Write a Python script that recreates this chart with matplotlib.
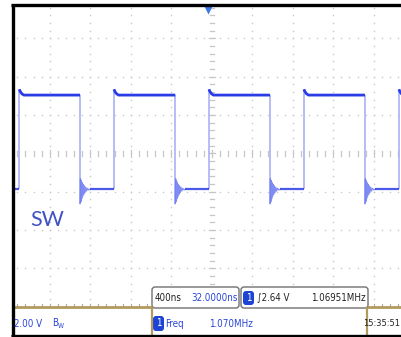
import matplotlib
matplotlib.use('Agg')
import matplotlib.pyplot as plt
import numpy as np
from matplotlib.patches import FancyBboxPatch
from matplotlib.lines import Line2D
from matplotlib.transforms import Affine2D
from matplotlib import font_manager
from matplotlib.font_manager import FontProperties

# ---------------- data ----------------
rise_ns = [-1900, -965, -27, 911, 1849]          # rising-edge times
fall_ns = [-1300, -360, 576, 1514]               # falling-edge times
v_high = 4.92                                    # V
v_low = 0.0                                      # V
overshoot_dt = [0, 10, 25, 45]                   # ns after rising edge
overshoot_dv = [0.30, 0.18, 0.07, 0.0]           # V
ring_dt = [0, 4, 8, 12, 16, 20, 25, 30, 36, 42, 49, 56, 64, 74, 86, 100]
ring_dv = [-0.75, 0.55, -0.65, 0.45, -0.5, 0.35, -0.38, 0.26, -0.27, 0.18,
           -0.17, 0.11, -0.09, 0.05, -0.03, 0.0]
ns_per_div = 400
v_per_div = 2.0
center_v = 1.88
trig_ns = -32
label_trace = "SW"
lbl_timebase = "400ns"
lbl_hpos = "32.0000ns"
lbl_trig = "\u222B2.64 V"
lbl_freq_trig = "1.06951MHz"
lbl_scale = "2.00 V"
lbl_meas = "Freq"
lbl_meas_val = "1.070MHz"
lbl_time = "15:35:51"

W, H = 401, 337
fig = plt.figure(figsize=(W / 100, H / 100), dpi=100)
fig.patch.set_facecolor('white')

# axes region in pixels: x 13..401, y 6..306.7
ax_l, ax_r, ax_t, ax_b = 13, 401, 6, 306.7
ax = fig.add_axes([ax_l / W, 1 - ax_b / H, (ax_r - ax_l) / W, (ax_b - ax_t) / H])
px_per_div_x = 40.5
px_per_div_y = 38.3
cx, cy = 211.7, 153.3
xmin = (ax_l - cx) / px_per_div_x * ns_per_div
xmax = (ax_r - cx) / px_per_div_x * ns_per_div
ymax = center_v + (cy - ax_t) / px_per_div_y * v_per_div
ymin = center_v - (ax_b - cy) / px_per_div_y * v_per_div
ax.set_xlim(xmin, xmax)
ax.set_ylim(ymin, ymax)
ax.axis('off')

# ---------------- graticule ----------------
dot_c = '#c8c8c8'
step_t = ns_per_div / 5
step_v = v_per_div / 5
tt = np.arange(-5 * ns_per_div, 5 * ns_per_div + 1, step_t)
vv = center_v + np.arange(-4 * v_per_div, 4 * v_per_div + 0.01, step_v)
for k in [-3, -2, -1, 1, 2, 3]:
    v = center_v + k * v_per_div
    ax.plot(tt, np.full_like(tt, v), 's', ms=1.0, mec='none', mfc=dot_c, zorder=1)
for k in [-4, -3, -2, -1, 1, 2, 3, 4]:
    t = k * ns_per_div
    ax.plot(np.full_like(vv, t), vv, 's', ms=1.0, mec='none', mfc=dot_c, zorder=1)
# center cross with fine ticks
tick_c = '#c6c6c6'
hv = 2.5 / px_per_div_y * v_per_div
ht = 2.2 / px_per_div_x * ns_per_div
for t in tt:
    m = 1.4 if abs(t % ns_per_div) < 1e-6 else 1.0
    ax.plot([t, t], [center_v - hv * m, center_v + hv * m], color=tick_c, lw=0.9, zorder=1)
for v in vv:
    q = (v - center_v) / v_per_div
    m = 1.4 if abs(q - round(q)) < 1e-6 else 1.0
    ax.plot([-ht * m, ht * m], [v, v], color=tick_c, lw=0.9, zorder=1)
# bottom ticks
bt = 3 / px_per_div_y * v_per_div
for t in tt:
    ax.plot([t, t], [ymin, ymin + bt], color='#a8a8a8', lw=0.8, zorder=1)

# ---------------- waveform ----------------
light = '#aab0f6'
dark = '#2a3ce4'
ringc = '#6a78f2'

# vertical edges (light)
ax.vlines(rise_ns, v_low, v_high + overshoot_dv[0], color=light, lw=1.2, zorder=2)
ax.vlines(fall_ns, v_low + ring_dv[0], v_high, color=light, lw=1.2, zorder=2)

# ringing after each falling edge
for f in fall_ns:
    ax.plot([f + d for d in ring_dt], [v_low + d for d in ring_dv],
            color=ringc, lw=0.9, alpha=0.85, zorder=2.5)

# dark plateaus
for i, r in enumerate(rise_ns):
    end = fall_ns[i] if i < len(fall_ns) else xmax
    ts = [r + d for d in overshoot_dt] + [end]
    vs = [v_high + d for d in overshoot_dv] + [v_high]
    ax.plot(ts, vs, color=dark, lw=2.0, zorder=3, solid_capstyle='butt')
lows_start = [xmin] + [f + ring_dt[-1] for f in fall_ns]
lows_end = rise_ns[:len(lows_start)]
for a, b in zip(lows_start, lows_end):
    ax.plot([a, b], [v_low, v_low], color=dark, lw=1.6, zorder=3, alpha=0.85,
            solid_capstyle='butt')

# trigger marker at top
ax.plot([trig_ns], [ymax - 0.2], marker='v', ms=6.0, color='#3a78e6', mec='none',
        clip_on=False, zorder=4)

# trace label
ax.text(-1940 + 150, center_v - 1.75 * v_per_div, label_trace, color='#4052c4',
        fontsize=15.5, family=['Lato', 'DejaVu Sans'], ha='left', va='center', zorder=4)

# ---------------- status bar (pixel coordinates) ----------------
tr = Affine2D().scale(1 / W, -1 / H).translate(0, 1) + fig.transFigure

# look for a condensed face; otherwise Liberation Sans
cond_file = None
for fe in font_manager.fontManager.ttflist:
    nm = fe.name
    if ('Narrow' in nm or 'Condensed' in nm or str(fe.stretch) in ('condensed', 'semi-condensed', 'extra-condensed')) \
            and fe.style == 'normal' and fe.weight in (400, 'normal', 'regular'):
        cond_file = fe.fname
        break
if cond_file:
    base_fp = FontProperties(fname=cond_file)
    csz = 7.0
else:
    base_fp = FontProperties(family=['Liberation Sans', 'DejaVu Sans'])
    csz = 6.0
blue_t = '#2a45d8'
gold = '#b29a5c'

def line(xs, ys, c, lw):
    fig.add_artist(Line2D(xs, ys, color=c, lw=lw, transform=tr, solid_capstyle='butt'))

def box(x0, y0, x1, y1, ec, fc='white', lw=1.0, r=3):
    fig.add_artist(FancyBboxPatch((x0, y0), x1 - x0, y1 - y0,
                                  boxstyle=f'round,pad=0,rounding_size={r}',
                                  ec=ec, fc=fc, lw=lw, transform=tr))

def txt(x, y, s, c='#222222', ha='left', size=None):
    fp = base_fp.copy()
    fp.set_size(size or csz)
    fig.text(x, y, s, color=c, ha=ha, va='center', fontproperties=fp, transform=tr)

# white area below plot
fig.add_artist(FancyBboxPatch((13, 307), 388, 28, boxstyle='square,pad=0',
                              ec='none', fc='white', transform=tr))
# gold axis lines
line([13, 152], [307, 307], gold, 2.0)
line([367, 401], [307, 307], gold, 2.0)
line([152, 152], [307, 335], gold, 1.6)
line([367, 367], [307, 335], gold, 1.6)

# upper boxes
box(152, 287, 239, 308, '#707070')
box(241, 287, 368, 308, '#707070')
txt(155, 298, lbl_timebase)
txt(238, 298, lbl_hpos, c=blue_t, ha='right')
box(243, 291, 254, 305, 'none', fc='#1e44d6', r=3)
txt(248.5, 298, '1', c='white', ha='center')
txt(257, 298, lbl_trig)
txt(366, 298, lbl_freq_trig, ha='right')

# lower row
txt(14, 324, lbl_scale, c=blue_t)
txt(52, 323, 'B', c=blue_t)
txt(57.5, 326, 'W', c=blue_t, size=csz * 0.7)
box(153, 316, 164, 331, 'none', fc='#1e44d6', r=3)
txt(158.5, 323.5, '1', c='white', ha='center')
txt(165, 324, lbl_meas, c=blue_t)
txt(209, 324, lbl_meas_val, c=blue_t)
txt(400, 324, lbl_time, ha='right', size=csz * 0.95)

# black frame
line([12.5, 12.5], [4, 337], 'black', 2.4)
line([11, 401], [5, 5], 'black', 2.4)
line([11, 401], [335.5, 335.5], 'black', 2.4)

fig.savefig('out.png', dpi=100, facecolor='white')
